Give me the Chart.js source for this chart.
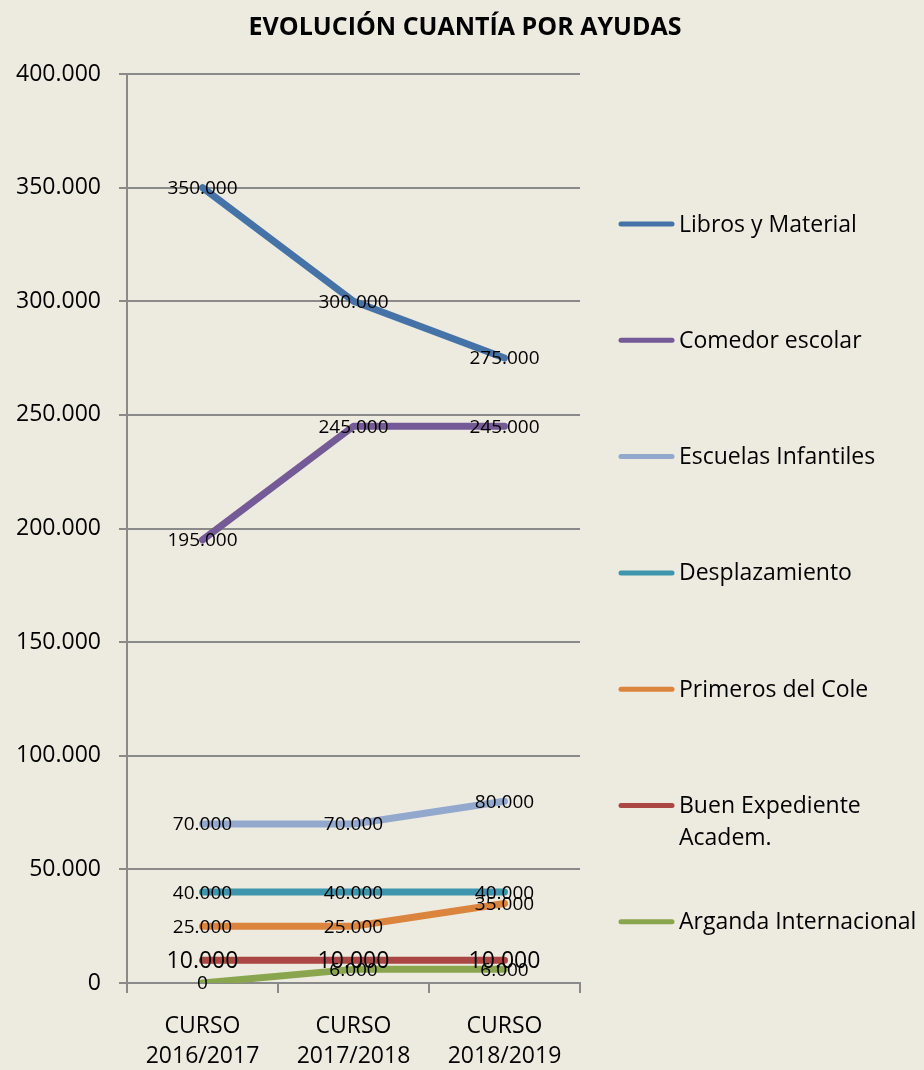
<!DOCTYPE html>
<html>
<head>
<meta charset="utf-8">
<script src="https://cdn.jsdelivr.net/npm/chart.js@4/dist/chart.umd.min.js"></script>
<style>
  html, body { margin: 0; padding: 0; background: #EDEADF; }
  #wrap { width: 924px; height: 1070px; }
</style>
</head>
<body>
<div id="wrap"><canvas id="grafico"></canvas></div>
<script>
const titulo = 'EVOLUCIÓN CUANTÍA POR AYUDAS';
const cursos = [['CURSO', '2016/2017'], ['CURSO', '2017/2018'], ['CURSO', '2018/2019']];

const librosMaterial = [350000, 300000, 275000];
const comedorEscolar = [195000, 245000, 245000];
const escuelasInfantiles = [70000, 70000, 80000];
const desplazamiento = [40000, 40000, 40000];
const primerosCole = [25000, 25000, 35000];
const buenExpediente = [10000, 10000, 10000];
const argandaInternacional = [0, 6000, 6000];

const ejeY = { min: 0, max: 400000, paso: 50000 };

const fuente = "'Open Sans', sans-serif";
const gris = '#8A8A8A';

function fmt(v) {
  return v.toLocaleString('de-DE');
}

function serie(nombre, datos, color, tamEtiqueta) {
  return {
    label: nombre,
    data: datos,
    borderColor: color,
    backgroundColor: color,
    borderWidth: 7,
    borderCapStyle: 'round',
    borderJoinStyle: 'round',
    pointRadius: 0,
    pointHoverRadius: 0,
    tension: 0,
    tamEtiqueta: tamEtiqueta || 19
  };
}

// etiquetas de datos centradas sobre cada punto
const etiquetas = {
  id: 'etiquetas',
  afterDatasetsDraw(chart) {
    const ctx = chart.ctx;
    ctx.save();
    ctx.fillStyle = '#000';
    ctx.textAlign = 'center';
    ctx.textBaseline = 'middle';
    chart.data.datasets.forEach((ds, i) => {
      const meta = chart.getDatasetMeta(i);
      ctx.font = ds.tamEtiqueta + 'px ' + fuente;
      meta.data.forEach((pt, j) => {
        ctx.fillText(fmt(ds.data[j]), pt.x, pt.y + 1);
      });
    });
    ctx.restore();
  }
};

// titulo y leyenda a la derecha (una entrada cada ~116 px)
const extras = {
  id: 'extras',
  afterDraw(chart) {
    const ctx = chart.ctx;
    ctx.save();
    ctx.fillStyle = '#000';
    ctx.textBaseline = 'middle';
    ctx.textAlign = 'center';
    ctx.font = 'bold 25px ' + fuente;
    ctx.fillText(titulo, 465, 28);

    ctx.font = '23px ' + fuente;
    ctx.textAlign = 'left';
    chart.data.datasets.forEach((ds, i) => {
      const y = 224 + i * 116.3;
      ctx.strokeStyle = ds.borderColor;
      ctx.lineWidth = 5;
      ctx.lineCap = 'round';
      ctx.beginPath();
      ctx.moveTo(621, y);
      ctx.lineTo(672, y);
      ctx.stroke();
      ds.label.split('\n').forEach((linea, k) => {
        ctx.fillText(linea, 679, y + 1 + k * 32);
      });
    });
    ctx.restore();
  }
};

const fondo = {
  id: 'fondo',
  beforeDraw(chart) {
    const ctx = chart.ctx;
    ctx.save();
    ctx.fillStyle = '#EDEADF';
    ctx.fillRect(0, 0, chart.width, chart.height);
    ctx.restore();
  }
};

const ctx = document.getElementById('grafico').getContext('2d');
new Chart(ctx, {
  type: 'line',
  data: {
    labels: cursos,
    datasets: [
      serie('Libros y Material', librosMaterial, '#4572A7'),
      serie('Comedor escolar', comedorEscolar, '#745A96'),
      serie('Escuelas Infantiles', escuelasInfantiles, '#92A8CD'),
      serie('Desplazamiento', desplazamiento, '#3D96AE'),
      serie('Primeros del Cole', primerosCole, '#DB843D'),
      serie('Buen Expediente\nAcadem.', buenExpediente, '#AA4643', 23),
      serie('Arganda Internacional', argandaInternacional, '#89A54E')
    ]
  },
  options: {
    responsive: true,
    maintainAspectRatio: false,
    animation: false,
    layout: { padding: { left: 14, right: 344, top: 74, bottom: 0 } },
    plugins: {
      legend: { display: false },
      tooltip: { enabled: false },
      title: { display: false }
    },
    scales: {
      x: {
        offset: true,
        afterFit: s => { s.height = 87; },
        grid: {
          offset: true,
          drawOnChartArea: false,
          color: gris,
          lineWidth: 2,
          tickLength: 10
        },
        border: { color: gris, width: 2 },
        ticks: {
          color: '#000',
          padding: 19,
          maxRotation: 0,
          font: { family: fuente, size: 23, lineHeight: 1.3 }
        }
      },
      y: {
        min: ejeY.min,
        max: ejeY.max,
        afterFit: s => { s.width = 113; },
        grid: { color: gris, lineWidth: 2, tickLength: 8 },
        border: { color: gris, width: 2 },
        ticks: {
          stepSize: ejeY.paso,
          color: '#000',
          padding: 18,
          font: { family: fuente, size: 23 },
          callback: v => fmt(v)
        }
      }
    }
  },
  plugins: [fondo, etiquetas, extras]
});
</script>
</body>
</html>
